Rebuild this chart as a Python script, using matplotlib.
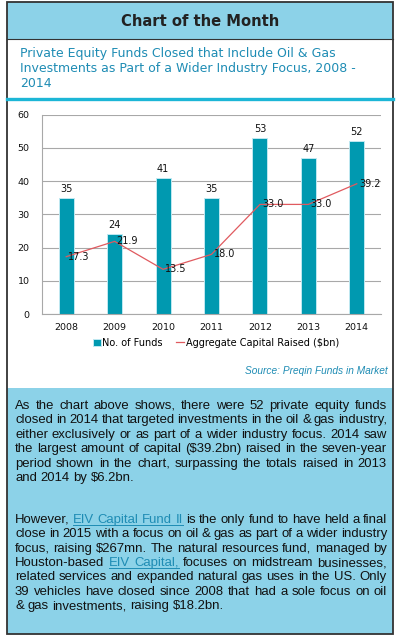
import matplotlib
matplotlib.use("Agg")
import matplotlib.pyplot as plt
from matplotlib.patches import Rectangle
from matplotlib.lines import Line2D

# ---- data ----
years = ["2008", "2009", "2010", "2011", "2012", "2013", "2014"]
n_funds = [35, 24, 41, 35, 53, 47, 52]
capital_bn = [17.3, 21.9, 13.5, 18.0, 33.0, 33.0, 39.2]

header = "Chart of the Month"
subtitle = ["Private Equity Funds Closed that Include Oil & Gas",
            "Investments as Part of a Wider Industry Focus, 2008 -",
            "2014"]
source = "Source: Preqin Funds in Market"

para1 = ["As the chart above shows, there were 52 private equity funds",
         "closed in 2014 that targeted investments in the oil & gas industry,",
         "either exclusively or as part of a wider industry focus. 2014 saw",
         "the largest amount of capital ($39.2bn) raised in the seven-year",
         "period shown in the chart, surpassing the totals raised in 2013",
         "and 2014 by $6.2bn."]
# words in [brackets] are links
para2 = ["However, [EIV Capital Fund II] is the only fund to have held a final",
         "close in 2015 with a focus on oil & gas as part of a wider industry",
         "focus, raising $267mn. The natural resources fund, managed by",
         "Houston-based [EIV Capital,] focuses on midstream businesses,",
         "related services and expanded natural gas uses in the US. Only",
         "39 vehicles have closed since 2008 that had a sole focus on oil",
         "& gas investments, raising $18.2bn."]

W, H = 399, 637
TEAL = "#0099b0"
LIGHT = "#8cd2e8"
CYAN = "#1cb6d6"
BLUE_TXT = "#1e8cb4"
RED = "#e05a5f"
GRID = "#a8a8a8"

fig = plt.figure(figsize=(W / 100, H / 100), dpi=100)


def fx(x):
    return x / W


def fy(y):
    return 1 - y / H


def rect(x0, y0, x1, y1, **kw):
    fig.add_artist(Rectangle((fx(x0), fy(y1)), fx(x1) - fx(x0), fy(y0) - fy(y1),
                             transform=fig.transFigure, **kw))


def hline(x0, x1, y, **kw):
    fig.add_artist(Line2D([fx(x0), fx(x1)], [fy(y), fy(y)], transform=fig.transFigure, **kw))


# ---- frame ----
rect(7, 2, 393, 39, facecolor=LIGHT, edgecolor="none")
rect(7, 388, 393, 634, facecolor=LIGHT, edgecolor="none")
hline(7, 393, 98.5, color=CYAN, lw=2.4)
hline(7, 393, 39, color="#333333", lw=0.8)
rect(7, 2, 393, 634, facecolor="none", edgecolor="#333333", lw=1.3)

fig.text(fx(200), fy(21.5), header, ha="center", va="center", fontsize=10.6,
         fontweight="bold", color="#222222", family="DejaVu Sans")
for i, s in enumerate(subtitle):
    fig.text(fx(20), fy(53 + i * 15.2), s, ha="left", va="center", fontsize=9.0,
             color=BLUE_TXT, family="DejaVu Sans")

# ---- chart ----
ax = fig.add_axes([fx(42), fy(314.3), fx(381) - fx(42), fy(114.5) - fy(314.3)])
xs = list(range(len(years)))
bars = ax.bar(xs, n_funds, width=0.31, color=TEAL, edgecolor="#bfe8f1", lw=0.7, zorder=2,
              label="No. of Funds")
line, = ax.plot(xs, capital_bn, color=RED, lw=0.9, zorder=3,
                label="Aggregate Capital Raised ($bn)")
for x, v in zip(xs, n_funds):
    ax.annotate(str(v), (x, v), xytext=(0, 3), textcoords="offset points", ha="center",
                va="bottom", fontsize=7, color="#111111")
for x, v in zip(xs, capital_bn):
    ax.annotate(f"{v:.1f}", (x, v), xytext=(1.5, 0), textcoords="offset points", ha="left",
                va="center", fontsize=7, color="#111111", zorder=4)

ax.set_xlim(-0.5, len(years) - 0.5)
ax.set_ylim(0, 60)
ax.set_yticks(range(0, 61, 10))
ax.set_xticks(xs)
ax.set_xticklabels(years)
ax.tick_params(length=0, labelsize=6.8, colors="#111111")
ax.tick_params(axis="y", pad=9)
ax.tick_params(axis="x", pad=6)
ax.grid(axis="y", color=GRID, lw=0.8, zorder=0)
for side in ["top", "right"]:
    ax.spines[side].set_visible(False)
for side in ["left", "bottom"]:
    ax.spines[side].set_color(GRID)
    ax.spines[side].set_linewidth(0.8)

leg = ax.legend([bars, line], [bars.get_label(), line.get_label()], loc="center",
                bbox_to_anchor=(fx(216), fy(343)), bbox_transform=fig.transFigure,
                ncol=2, frameon=False, fontsize=7, handlelength=0.8, handleheight=0.8,
                handletextpad=0.15, columnspacing=1.4, borderaxespad=0, borderpad=0)

fig.text(fx(388), fy(371), source, ha="right", va="center", fontsize=7.3, style="italic",
         color=BLUE_TXT, family="Liberation Sans")

# ---- justified paragraphs ----
renderer = fig.canvas.get_renderer()
FS = 9.45
TX0, TX1 = 15, 387


def width(s):
    t = fig.text(0, 0, s, fontsize=FS, family="Liberation Sans")
    w = t.get_window_extent(renderer).width
    t.remove()
    return w


def draw_para(lines, y0, step):
    for li, line in enumerate(lines):
        words = []
        link = False
        for w in line.split(" "):
            if w.startswith("["):
                link = True
                w = w[1:]
            end = w.endswith("]")
            if end:
                w = w[:-1]
            words.append((w, link))
            if end:
                link = False
        widths = [width(w) for w, _ in words]
        last = li == len(lines) - 1
        if last or len(words) == 1:
            gap = width("a a") - width("aa")
        else:
            gap = (TX1 - TX0 - sum(widths)) / (len(words) - 1)
        y = y0 + li * step
        x = TX0
        prev_link_end = None
        for (w, lk), wd in zip(words, widths):
            fig.text(fx(x), fy(y), w, ha="left", va="baseline", fontsize=FS,
                     family="Liberation Sans", color=BLUE_TXT if lk else "#111111")
            if lk:
                start = x if prev_link_end is None else prev_link_end
                hline(start, x + wd, y + 1.6, color=BLUE_TXT, lw=0.7)
                prev_link_end = x + wd
            else:
                prev_link_end = None
            x += wd + gap


draw_para(para1, 409, 14.4)
draw_para(para2, 523, 14.35)

fig.savefig("out.png", dpi=100, facecolor="white")
